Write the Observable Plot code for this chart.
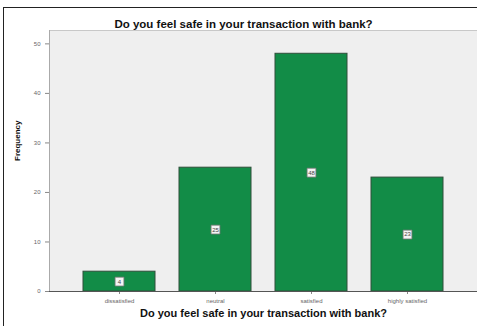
<!DOCTYPE html>
<html><head><meta charset="utf-8">
<script src="https://cdn.jsdelivr.net/npm/d3@7"></script>
<script src="https://cdn.jsdelivr.net/npm/@observablehq/plot@0.6"></script>
<style>
body{margin:0;background:#fff;font-family:"Liberation Sans",Arial,sans-serif;}
#wrap{position:relative;width:477px;height:326px;overflow:hidden;}
#border{position:absolute;left:3px;top:7px;width:490px;height:340px;border-left:1.5px solid #222;border-top:1.5px solid #222;pointer-events:none;}
</style></head>
<body><div id="wrap"><div id="border"></div></div>
<script>
const categories = ["dissatisfied", "neutral", "satisfied", "highly satisfied"];
const frequencies = [4, 25, 48, 23];
const yTicks = [0, 10, 20, 30, 40, 50];
const title = "Do you feel safe in your transaction with bank?";
const yLabel = "Frequency";

const data = categories.map((c, i) => ({cat: c, v: frequencies[i]}));

const chart = Plot.plot({
  width: 477, height: 326,
  marginTop: 30, marginBottom: 35, marginLeft: 49, marginRight: 0,
  style: {fontFamily: "Liberation Sans, Arial, sans-serif", background: "transparent"},
  x: {domain: categories, paddingInner: 0.245, paddingOuter: 0.34, label: null},
  y: {domain: [0, 52.7], ticks: yTicks, label: null},
  marks: [
    Plot.frame({fill: "#efefef"}),
    Plot.frame({anchor: "top", stroke: "#c8c8c8"}),
    Plot.frame({anchor: "left", stroke: "#aaa"}),
    Plot.barY(data, {x: "cat", y: "v", fill: "#128c47", stroke: "#2f4f3a", strokeWidth: 1}),
    Plot.dot(data, {x: "cat", y: d => d.v / 2, symbol: "square", r: 5, fill: "#f4f4f4", stroke: "#777", strokeWidth: 0.8}),
    Plot.text(data, {x: "cat", y: d => d.v / 2, text: d => String(d.v), fontSize: 6, fill: "#444"}),
    Plot.axisY({ticks: yTicks, tickSize: 4, fontSize: 6, fill: "#666", stroke: "#888", label: null}),
    Plot.axisX({tickSize: 3, fontSize: 6, fill: "#666", stroke: "#888", label: null, tickPadding: 4}),
    Plot.ruleY([0], {stroke: "#555", strokeWidth: 1.2}),
    Plot.text([title], {frameAnchor: "top", dy: -11, dx: -20, fontSize: 11.5, fontWeight: "bold", fill: "#111"}),
    Plot.text([title], {frameAnchor: "bottom", dy: 25, fontSize: 11, fontWeight: "bold", fill: "#111"}),
    Plot.text([yLabel], {frameAnchor: "left", dx: -32, rotate: -90, fontSize: 8, fontWeight: "bold", fill: "#111"})
  ]
});
document.getElementById("wrap").prepend(chart);
</script></body></html>
